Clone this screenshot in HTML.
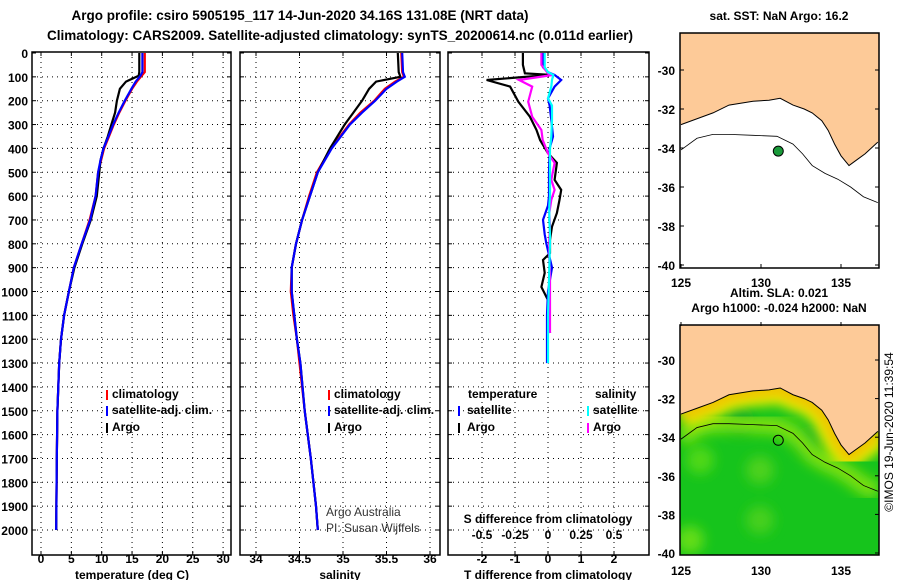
<!DOCTYPE html>
<html><head><meta charset="utf-8"><style>
html,body{margin:0;padding:0;background:#fff}
svg{display:block;font-family:"Liberation Sans",sans-serif}
.b{font-weight:bold;font-size:12px}
</style></head><body>
<svg id="c" width="900" height="580" xmlns="http://www.w3.org/2000/svg">
<defs>
<clipPath id="m1c"><rect x="680" y="33" width="199" height="235"/></clipPath>
<clipPath id="m2c"><rect x="680" y="325" width="199" height="230"/></clipPath>
<filter id="bl"><feGaussianBlur stdDeviation="6"/></filter>
</defs>
<text x="300" y="20" text-anchor="middle" font-size="13.5" font-weight="bold">Argo profile: csiro 5905195_117 14-Jun-2020 34.16S 131.08E (NRT data)</text>
<text x="340" y="40" text-anchor="middle" font-size="13.5" font-weight="bold">Climatology: CARS2009. Satellite-adjusted climatology: synTS_20200614.nc (0.011d earlier)</text>
<g id="g"></g>
</svg>
<script>
// ---- data ----
const depthTicks=[0,100,200,300,400,500,600,700,800,900,1000,1100,1200,1300,1400,1500,1600,1700,1800,1900,2000];
const tempTicks=[0,5,10,15,20,25,30];
const salTicks=[34,34.5,35,35.5,36];
const salTickLabels=["34","34.5","35","35.5","36"];
const dTTicks=[-2,-1,0,1,2];
const dSTicks=[-0.5,-0.25,0,0.25,0.5];
const dSTickLabels=["-0.5","-0.25","0","0.25","0.5"];

const tDepth=[0,80,95,120,150,200,250,300,350,400,450,500,600,700,800,900,1000,1100,1200,1300,1500,1700,2000];
const tArgo=[16.2,16.2,16.1,14.0,13.0,12.5,12.2,11.6,11.0,10.3,9.8,9.6,9.2,8.2,6.8,5.5,4.6,3.8,3.3,3.0,2.7,2.6,2.5];
const tClim=[17.1,17.1,16.6,15.8,15.0,13.9,12.9,12.0,11.2,10.4,9.9,9.4,9.0,8.0,6.7,5.4,4.6,3.8,3.3,3.0,2.7,2.6,2.5];
const tSat=[16.7,16.7,16.4,15.6,14.9,13.8,12.8,11.9,11.1,10.3,9.8,9.4,9.0,8.1,6.7,5.4,4.6,3.8,3.3,3.0,2.7,2.6,2.5];

const sDepth=[0,80,100,120,150,200,250,300,400,500,600,700,800,900,1000,1100,1200,1300,1500,1700,1900,2000];
const sArgo=[35.63,35.64,35.66,35.38,35.30,35.22,35.12,35.02,34.85,34.71,34.62,34.53,34.46,34.41,34.41,34.44,34.47,34.51,34.56,34.63,34.69,34.71];
const sClim=[35.67,35.68,35.70,35.60,35.48,35.36,35.20,35.07,34.86,34.70,34.61,34.53,34.46,34.41,34.40,34.43,34.47,34.50,34.56,34.63,34.69,34.71];
const sSat=[35.68,35.69,35.71,35.62,35.50,35.37,35.22,35.08,34.87,34.71,34.62,34.53,34.46,34.41,34.41,34.44,34.47,34.51,34.56,34.63,34.69,34.71];

const aDepth=[0,50,85,92,113,141,204,267,323,365,420,461,532,574,616,671,728,784,839,868,922,981,1036,1090,1174];
const dTArgo=[-0.76,-0.76,-0.7,0.06,-1.86,-1.15,-0.9,-0.55,-0.35,-0.24,0.0,0.27,0.2,0.4,0.35,0.27,0.12,0.06,0.06,-0.15,-0.1,-0.2,0.0,0.0,0.06];
const dSArgo=[-0.05,-0.05,0.0,0.04,-0.22,-0.12,-0.15,-0.12,-0.05,-0.04,0.0,0.05,0.025,0.05,0.025,0.01,0.015,0.01,0.01,0.01,0.015,0.015,0.015,0.015,0.015];
const sDepth2=[0,60,80,92,113,141,190,220,280,350,400,500,600,640,700,760,800,900,1000,1100,1300];
const dTSat=[-0.15,-0.15,0.0,0.2,0.4,0.2,0.0,0.05,0.1,0.15,0.05,0.03,0.03,0.0,-0.15,-0.1,-0.05,0.12,0.0,-0.03,-0.03];
const dSSat=[-0.025,-0.025,0.0,0.04,0.03,0.025,0.0,0.03,0.03,0.025,0.015,0.015,0.015,0.01,0.01,0.015,0.015,0.01,0.005,0.0,0.0];

const coastLon=[125,126,127,128,129.5,130.5,131.2,132,132.7,133.2,133.8,134.2,134.6,135.0,135.5,136.0,136.5,137.3];
const coastLat=[-32.8,-32.5,-32.2,-31.8,-31.6,-31.55,-31.45,-31.8,-32.0,-32.2,-32.6,-33.1,-33.8,-34.4,-34.9,-34.6,-34.3,-33.7];
const isoLon=[125,126,127,128,129.5,131,132,132.6,133.2,134,134.8,135.6,136.4,137.3];
const isoLat=[-34.1,-33.5,-33.3,-33.3,-33.35,-33.4,-33.8,-34.3,-34.9,-35.3,-35.6,-36.0,-36.5,-36.8];
const argoLon=131.08, argoLat=-34.16;

// ---- helpers ----
const NS="http://www.w3.org/2000/svg";
const G=document.getElementById('g');
function el(t,a,p){const e=document.createElementNS(NS,t);for(const k in a)e.setAttribute(k,a[k]);(p||G).appendChild(e);return e;}
function txt(x,y,s,a){const e=el('text',Object.assign({x:x,y:y},a||{}));e.textContent=s;return e;}
const yD=d=>53+d*0.2385;
const xT=t=>41+t*6.07;
const xS=s=>256+(s-34)*87;
const xDT=v=>548+v*33;
const xDS=v=>548+v*132;
const PT=53-1, PB=555;

function panel(name,x0,x1,vt,fx){
  const g=el('g',{});
  
  
  vt.forEach(v=>{const x=fx(v);if(x>x0+2&&x<x1-2)el('line',{x1:x,y1:PT,x2:x,y2:PB,stroke:'#000','stroke-dasharray':'1,4','stroke-width':1},g);});
  depthTicks.forEach(d=>{const y=yD(d);if(d>0){el('line',{x1:x0,y1:y,x2:x1,y2:y,stroke:'#000','stroke-dasharray':'1,4','stroke-width':1},g);}
    el('line',{x1:x0,y1:y,x2:x0+4,y2:y,stroke:'#000'},g);el('line',{x1:x1-4,y1:y,x2:x1,y2:y,stroke:'#000'},g);});
  vt.forEach(v=>{const x=fx(v);el('line',{x1:x,y1:PB,x2:x,y2:PB-4,stroke:'#000'},g);el('line',{x1:x,y1:PT,x2:x,y2:PT+4,stroke:'#000'},g);});
  el('rect',{x:x0,y:PT,width:x1-x0,height:PB-PT,fill:'none',stroke:'#000','stroke-width':1.5},g);
  return g;
}
function line(xs,ds,fx,col,name,g){
  const pts=xs.map((v,i)=>fx(v).toFixed(1)+','+yD(ds[i]).toFixed(1)).join(' ');
  const e=el('polyline',{points:pts,fill:'none',stroke:col,'stroke-width':2.2},g);
  
  
}
function legTick(x,y,col){el('line',{x1:x,y1:y-10,x2:x,y2:y,stroke:col,'stroke-width':2});}

// depth labels
depthTicks.forEach(d=>{const t=txt(28,yD(d)+5,String(d),{class:'b','text-anchor':'end'});
  });

// panel 1
const p1=panel('temperature-panel',32,231,tempTicks,xT);
line(tClim,tDepth,xT,'#f00','temp-climatology-line',p1);
line(tArgo,tDepth,xT,'#000','temp-argo-line',p1);
line(tSat,tDepth,xT,'#00f','temp-satellite-line',p1);
tempTicks.forEach(t=>txt(xT(t),563,String(t),{class:'b','text-anchor':'middle'}));
txt(132,579,'temperature (deg C)',{class:'b','text-anchor':'middle'});
[['#f00','climatology',398],['#00f','satellite-adj. clim.',414],['#000','Argo',431]].forEach(a=>{legTick(107,a[2]+2,a[0]);const t=txt(112,a[2],a[1],{class:'b'});});

// panel 2
const p2=panel('salinity-panel',240,440,salTicks,xS);
line(sClim,sDepth,xS,'#f00','sal-climatology-line',p2);
line(sArgo,sDepth,xS,'#000','sal-argo-line',p2);
line(sSat,sDepth,xS,'#00f','sal-satellite-line',p2);
salTicks.forEach((s,i)=>txt(xS(s),563,salTickLabels[i],{class:'b','text-anchor':'middle'}));
txt(340,579,'salinity',{class:'b','text-anchor':'middle'});
[['#f00','climatology',398],['#00f','satellite-adj. clim.',414],['#000','Argo',431]].forEach(a=>{legTick(329,a[2]+2,a[0]);const t=txt(334,a[2],a[1],{class:'b'});});
txt(326,516,'Argo Australia',{'font-size':12,fill:'#333'});
txt(326,532,'PI: Susan Wijffels',{'font-size':12,fill:'#333'});

// panel 3
const p3=panel('difference-panel',448,649,dTTicks,xDT);
line(dTArgo,aDepth,xDT,'#000','dT-argo-line',p3);
line(dTSat,sDepth2,xDT,'#00f','dT-satellite-line',p3);
line(dSArgo,aDepth,xDS,'#f0f','dS-argo-line',p3);
line(dSSat,sDepth2,xDS,'#0ff','dS-satellite-line',p3);
dTTicks.forEach(v=>txt(xDT(v),563,String(v),{class:'b','text-anchor':'middle'}));
txt(548,579,'T difference from climatology',{class:'b','text-anchor':'middle'});
txt(548,523,'S difference from climatology',{class:'b','text-anchor':'middle'});
dSTicks.forEach((v,i)=>txt(xDS(v),539,dSTickLabels[i],{class:'b','text-anchor':'middle'}));
txt(468,398,'temperature',{class:'b'});txt(595,398,'salinity',{class:'b'});
legTick(459,416,'#00f');txt(467,414,'satellite',{class:'b'});
legTick(459,433,'#000');txt(467,431,'Argo',{class:'b'});
legTick(588,416,'#0ff');txt(593,414,'satellite',{class:'b'});
legTick(588,433,'#f0f');txt(593,431,'Argo',{class:'b'});

// maps
const mx=lon=>681+(lon-125)*16;
const my1=lat=>70+(-30-lat)*19.5;
const my2=lat=>360+(-30-lat)*19.3;
function landPts(my){let p=coastLon.map((l,i)=>mx(l)+','+my(coastLat[i]));return mx(124)+','+my(-27)+' '+mx(124)+','+my(-32.8)+' '+p.join(' ')+' '+mx(138)+','+my(-33.7)+' '+mx(138)+','+my(-27);}
function isoPts(my){return isoLon.map((l,i)=>mx(l)+','+my(isoLat[i])).join(' ');}
function coastPts(my){return coastLon.map((l,i)=>mx(l)+','+my(coastLat[i])).join(' ');}

const m1=el('g',{'clip-path':'url(#m1c)'});

el('rect',{x:680,y:33,width:199,height:235,fill:'#fff'},m1);
el('polygon',{points:landPts(my1),fill:'#fdca98'},m1);
el('polyline',{points:coastPts(my1),fill:'none',stroke:'#000','stroke-width':1},m1);
el('polyline',{points:isoPts(my1),fill:'none',stroke:'#000','stroke-width':0.8},m1);
el('rect',{x:680,y:33,width:199,height:235,fill:'none',stroke:'#000','stroke-width':1.5});
const a1=el('circle',{cx:mx(argoLon),cy:my1(argoLat),r:5,fill:'#1a9a3a',stroke:'#000'});

txt(779,20,'sat. SST: NaN Argo: 16.2',{class:'b','text-anchor':'middle'});
[-30,-32,-34,-36,-38,-40].forEach(l=>{txt(675,my1(l)+5,String(l),{class:'b','text-anchor':'end'});el('line',{x1:680,y1:my1(l),x2:684,y2:my1(l),stroke:'#000'});el('line',{x1:875,y1:my1(l),x2:879,y2:my1(l),stroke:'#000'});});
[125,130,135].forEach(l=>{txt(mx(l),287,String(l),{class:'b','text-anchor':'middle'});el('line',{x1:mx(l),y1:268,x2:mx(l),y2:264,stroke:'#000'});});

const m2=el('g',{'clip-path':'url(#m2c)'});

el('rect',{x:680,y:325,width:199,height:230,fill:'#16c41c'},m2);
const blobs=el('g',{filter:'url(#bl)'},m2);
[[700,460,'#4fd818'],[760,470,'#4ed21a'],[760,520,'#46d01c'],[690,540,'#64dd14'],[810,440,'#10b02a'],[740,420,'#0fae28']].forEach(b=>el('circle',{cx:b[0],cy:b[1],r:14,fill:b[2]},blobs));
el('polyline',{points:isoPts(my2),fill:'none',stroke:'#7be010','stroke-width':18,filter:'url(#bl)'},m2);
el('polyline',{points:coastPts(my2),fill:'none',stroke:'#e8f000','stroke-width':30,filter:'url(#bl)'},m2);
el('polyline',{points:coastPts(my2),fill:'none',stroke:'#f0b800','stroke-width':12,filter:'url(#bl)'},m2);
el('polygon',{points:landPts(my2),fill:'#fdca98'},m2);
el('polyline',{points:coastPts(my2),fill:'none',stroke:'#000','stroke-width':1},m2);
el('polyline',{points:isoPts(my2),fill:'none',stroke:'#000','stroke-width':0.8},m2);
el('rect',{x:680,y:325,width:199,height:230,fill:'none',stroke:'#000','stroke-width':1.5});
const a2=el('circle',{cx:mx(argoLon),cy:my2(argoLat),r:5,fill:'none',stroke:'#000'});

txt(779,297,'Altim. SLA: 0.021',{class:'b','text-anchor':'middle'});
txt(779,312,'Argo h1000: -0.024 h2000: NaN',{class:'b','text-anchor':'middle'});
[-30,-32,-34,-36,-38,-40].forEach(l=>{txt(675,my2(l)+5,String(l),{class:'b','text-anchor':'end'});el('line',{x1:875,y1:my2(l),x2:879,y2:my2(l),stroke:'#000'});});
[125,130,135].forEach(l=>{txt(mx(l),575,String(l),{class:'b','text-anchor':'middle'});el('line',{x1:mx(l),y1:322,x2:mx(l),y2:326,stroke:'#000'});});
txt(0,0,'©IMOS 19-Jun-2020 11:39:54',{'font-size':12,'text-anchor':'middle',transform:'translate(893,432) rotate(-90)'});
</script>
</body></html>
